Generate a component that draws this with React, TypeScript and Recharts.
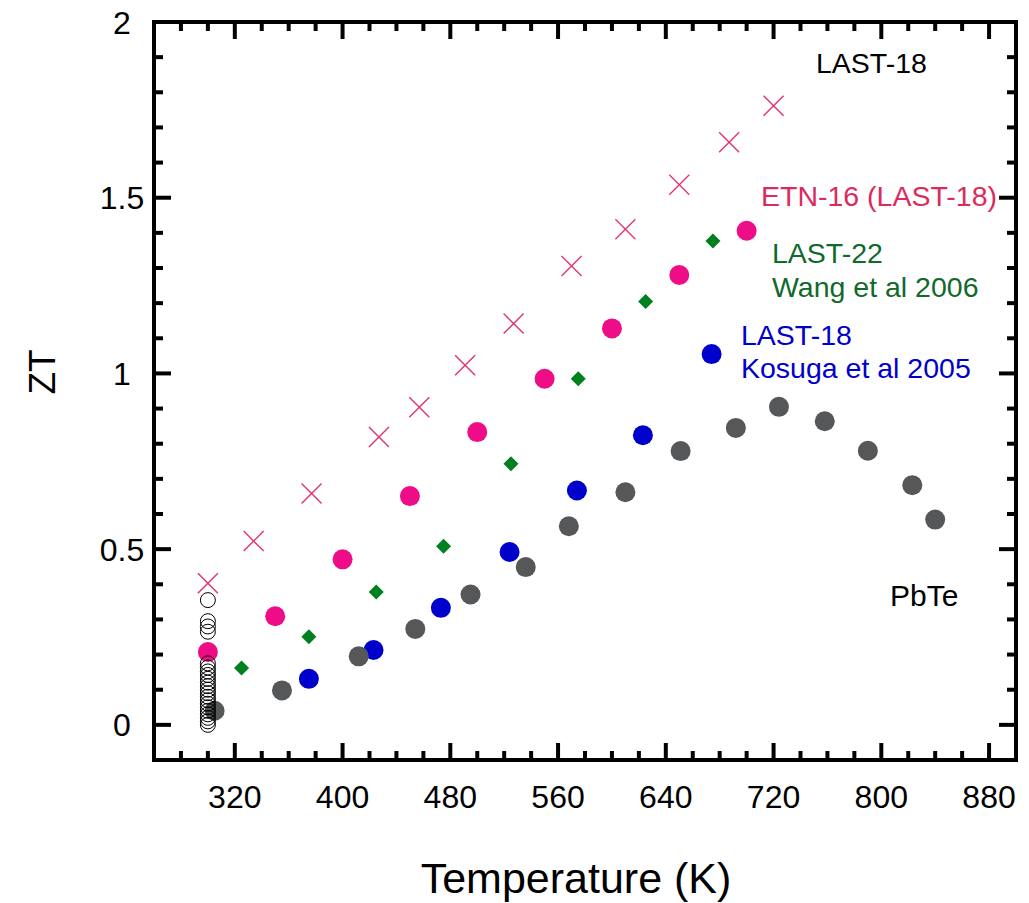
import React from 'react';
import { ScatterChart, Scatter, XAxis, YAxis, ReferenceArea } from 'recharts';

// LAST-18 (crosses)
const last18T = [300, 334, 377, 427, 457, 491, 527, 570, 610, 650, 687, 720];
const last18ZT = [0.403, 0.523, 0.658, 0.819, 0.904, 1.023, 1.142, 1.306, 1.41, 1.537, 1.658, 1.762];

// ETN-16 (LAST-18)
const etnT = [300, 350, 400, 450, 500, 550, 600, 650, 700];
const etnZT = [0.207, 0.309, 0.471, 0.651, 0.833, 0.985, 1.128, 1.28, 1.406];

// LAST-22, Wang et al 2006
const last22T = [325, 375, 425, 475, 525, 575, 625, 675];
const last22ZT = [0.162, 0.251, 0.378, 0.508, 0.743, 0.985, 1.205, 1.377];

// LAST-18, Kosuga et al 2005
const kosugaT = [375, 423, 473, 524, 574, 623, 674];
const kosugaZT = [0.131, 0.213, 0.333, 0.492, 0.667, 0.824, 1.055];

// PbTe
const pbteT = [305, 355, 412, 454, 495, 536, 568, 610, 651, 692, 724, 758, 790, 823, 840];
const pbteZT = [0.04, 0.098, 0.195, 0.273, 0.371, 0.449, 0.565, 0.662, 0.779, 0.845, 0.905, 0.864, 0.78, 0.682, 0.584];

// room temperature samples (open circles)
const roomT = [300, 300, 300, 300, 300, 300, 300, 300, 300, 300, 300, 300, 300, 300, 300, 300, 300, 300, 300, 300, 300, 300];
const roomZT = [0.355, 0.295, 0.28, 0.265, 0.175, 0.163, 0.152, 0.142, 0.131, 0.12, 0.11, 0.1, 0.09, 0.08, 0.07, 0.06, 0.05, 0.04, 0.03, 0.02, 0.01, 0.0];

const xLabels = [320, 400, 480, 560, 640, 720, 800, 880];
const xMinor = [280, 300, 340, 360, 380, 420, 440, 460, 500, 520, 540, 580, 600, 620, 660, 680, 700, 740, 760, 780, 820, 840, 860];
const yLabels = [0, 0.5, 1, 1.5, 2];
const yMinor = [0.1, 0.2, 0.3, 0.4, 0.6, 0.7, 0.8, 0.9, 1.1, 1.2, 1.3, 1.4, 1.6, 1.7, 1.8, 1.9];

const xTicks = [...xMinor, ...xLabels].sort((a, b) => a - b);
const yTicks = [...yMinor, ...yLabels].sort((a, b) => a - b);

const pts = (t: number[], z: number[]) => t.map((v, i) => ({ t: v, zt: z[i] }));

const FONT = '"Liberation Sans", Arial, sans-serif';
const MAJOR = 17;
const MINOR = 9;

// plot box edges (from chart margins / axis sizes below)
const PLOT_TOP = 22;
const PLOT_RIGHT = 1016;

const isMajorX = (v: number) => xLabels.includes(v);
const isMajorY = (v: number) => yLabels.some((m) => Math.abs(m - v) < 1e-6);

const BottomTick = (p: any) => {
  const major = isMajorX(p.payload.value);
  const len = major ? MAJOR : MINOR;
  return (
    <g>
      <line x1={p.x} x2={p.x} y1={p.y} y2={p.y - len} stroke="#000" strokeWidth={4} />
      <line x1={p.x} x2={p.x} y1={PLOT_TOP} y2={PLOT_TOP + len} stroke="#000" strokeWidth={4} />
      {major && (
        <text x={p.x} y={p.y + 48} textAnchor="middle" fontSize={32} fontFamily={FONT} fill="#000">
          {p.payload.value}
        </text>
      )}
    </g>
  );
};

const LeftTick = (p: any) => {
  const major = isMajorY(p.payload.value);
  const len = major ? MAJOR : MINOR;
  return (
    <g>
      <line x1={p.x} x2={p.x + len} y1={p.y} y2={p.y} stroke="#000" strokeWidth={4} />
      <line x1={PLOT_RIGHT} x2={PLOT_RIGHT - len} y1={p.y} y2={p.y} stroke="#000" strokeWidth={4} />
      {major && (
        <text x={p.x - 32} y={p.y} dy="0.36em" textAnchor="middle" fontSize={32} fontFamily={FONT} fill="#000">
          {p.payload.value}
        </text>
      )}
    </g>
  );
};

const Cross = (p: any) => (
  <g>
    <line x1={p.cx - 10} y1={p.cy - 10} x2={p.cx + 10} y2={p.cy + 10} stroke="#e2336b" strokeWidth={1.4} />
    <line x1={p.cx - 10} y1={p.cy + 10} x2={p.cx + 10} y2={p.cy - 10} stroke="#e2336b" strokeWidth={1.4} />
  </g>
);

const Dot = (color: string) => (p: any) => <circle cx={p.cx} cy={p.cy} r={10} fill={color} />;

const Diamond = (p: any) => (
  <polygon
    points={`${p.cx},${p.cy - 7.5} ${p.cx + 7.5},${p.cy} ${p.cx},${p.cy + 7.5} ${p.cx - 7.5},${p.cy}`}
    fill="#00801e"
  />
);

const Ring = (p: any) => <circle cx={p.cx} cy={p.cy} r={7.5} fill="none" stroke="#000" strokeWidth={1} />;

const frame = { stroke: '#000', strokeWidth: 4, strokeLinecap: 'square' as const };

export default function App() {
  return (
    <div style={{ position: 'absolute', left: 0, top: 0, width: 1029, height: 903, background: '#fff', fontFamily: FONT }}>
      <ScatterChart width={1029} height={903} margin={{ top: PLOT_TOP, right: 1029 - PLOT_RIGHT, left: 0, bottom: 0 }}>
        <ReferenceArea xAxisId="b" yAxisId="l" x1={260} x2={900} y1={-0.1} y2={2} fill="none" stroke="#000" strokeWidth={4} fillOpacity={0} />
        <XAxis xAxisId="b" type="number" dataKey="t" domain={[260, 900]} ticks={xTicks} height={143}
          axisLine={frame} tickLine={false} tickSize={0} tickMargin={0} tick={BottomTick} interval={0} />
        <YAxis yAxisId="l" type="number" dataKey="zt" domain={[-0.1, 2]} ticks={yTicks} width={154}
          axisLine={frame} tickLine={false} tickSize={0} tickMargin={0} tick={LeftTick} interval={0} />
        <Scatter xAxisId="b" yAxisId="l" data={pts(last18T, last18ZT)} shape={Cross} isAnimationActive={false} />
        <Scatter xAxisId="b" yAxisId="l" data={pts(etnT, etnZT)} shape={Dot('#ef0c87')} isAnimationActive={false} />
        <Scatter xAxisId="b" yAxisId="l" data={pts(last22T, last22ZT)} shape={Diamond} isAnimationActive={false} />
        <Scatter xAxisId="b" yAxisId="l" data={pts(kosugaT, kosugaZT)} shape={Dot('#0000cc')} isAnimationActive={false} />
        <Scatter xAxisId="b" yAxisId="l" data={pts(pbteT, pbteZT)} shape={Dot('#565759')} isAnimationActive={false} />
        <Scatter xAxisId="b" yAxisId="l" data={pts(roomT, roomZT)} shape={Ring} isAnimationActive={false} />
      </ScatterChart>
      <svg width={1029} height={903} style={{ position: 'absolute', left: 0, top: 0, pointerEvents: 'none' }} fontFamily={FONT}>
        <text x={816} y={73} fontSize={28.5} fill="#000">LAST-18</text>
        <text x={761} y={206} fontSize={28.5} fill="#dd2a5e">ETN-16 (LAST-18)</text>
        <text x={772} y={263} fontSize={28.5} fill="#11692b">LAST-22</text>
        <text x={772} y={297} fontSize={28.5} fill="#11692b">Wang et al 2006</text>
        <text x={741} y={345} fontSize={28.5} fill="#0000cc">LAST-18</text>
        <text x={741} y={378} fontSize={28.5} fill="#0000cc">Kosuga et al 2005</text>
        <text x={890} y={606} fontSize={30} fill="#000">PbTe</text>
        <text x={576} y={893} fontSize={43} textAnchor="middle" fill="#000">Temperature (K)</text>
        <text transform="translate(55,372) rotate(-90)" fontSize={37} textAnchor="middle" fill="#000">ZT</text>
      </svg>
    </div>
  );
}
